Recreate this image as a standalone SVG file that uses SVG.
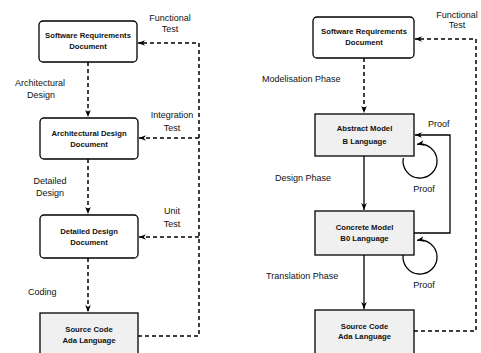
<svg xmlns="http://www.w3.org/2000/svg" width="481" height="353" viewBox="0 0 481 353">
<style>
.doc{fill:#ffffff;stroke:#000;stroke-width:1.3}
.mod{fill:#f0f0f0;stroke:#000;stroke-width:1.3}
.bt{font-family:"Liberation Sans",Arial,sans-serif;font-size:7.7px;font-weight:bold;text-anchor:middle;fill:#111}
.lb{font-family:"Liberation Sans",Arial,sans-serif;font-size:9px;fill:#111}
.c{text-anchor:middle}
.dash{fill:none;stroke:#000;stroke-width:1.5;stroke-dasharray:4,3}
.solid{fill:none;stroke:#000;stroke-width:1.3}
</style>
<defs>
<marker id="ah" viewBox="0 0 10 10" refX="10" refY="5" markerWidth="7" markerHeight="7" markerUnits="userSpaceOnUse" orient="auto">
<path d="M0,1 L10,5 L0,9 L3,5 z" fill="#000"/>
</marker>
</defs>
<rect width="481" height="353" fill="#ffffff"/>

<g id="connectors">
<!-- left panel -->
<path class="dash" d="M88,62 V117" marker-end="url(#ah)"/>
<path class="dash" d="M88,159 V214" marker-end="url(#ah)"/>
<path class="dash" d="M88,258 V312" marker-end="url(#ah)"/>
<path class="dash" d="M138,336 H199 V43 H138" marker-end="url(#ah)"/>
<path class="dash" d="M199,138 H139" marker-end="url(#ah)"/>
<path class="dash" d="M199,237 H139" marker-end="url(#ah)"/>
<!-- right panel -->
<path class="dash" d="M364,58 V113" marker-end="url(#ah)"/>
<path class="solid" d="M364,156 V210" marker-end="url(#ah)"/>
<path class="solid" d="M364,255 V309" marker-end="url(#ah)"/>
<path class="dash" d="M414,331 H476 V39 H415" marker-end="url(#ah)"/>
<path class="solid" d="M414,233 H450 V135 H415" marker-end="url(#ah)"/>
<path class="solid" d="M403.3,158 A17,17 0 1 0 417,144.3" marker-end="url(#ah)"/>
<path class="solid" d="M403.3,254 A17,17 0 1 0 417,240.3" marker-end="url(#ah)"/>
</g>

<g id="l-srd">
<rect class="doc" x="39" y="21" width="98" height="41" rx="4"/>
<text class="bt" x="88" y="38">Software Requirements</text>
<text class="bt" x="88" y="49">Document</text>
</g>
<g id="l-add">
<rect class="doc" x="40" y="118" width="98" height="41" rx="4"/>
<text class="bt" x="89" y="136">Architectural Design</text>
<text class="bt" x="89" y="147">Document</text>
</g>
<g id="l-ddd">
<rect class="doc" x="40" y="215" width="98" height="43" rx="4"/>
<text class="bt" x="89" y="234">Detailed Design</text>
<text class="bt" x="89" y="245">Document</text>
</g>
<g id="l-src">
<rect class="mod" x="40" y="313" width="98" height="50"/>
<text class="bt" x="89" y="332">Source Code</text>
<text class="bt" x="89" y="343">Ada Language</text>
</g>

<g id="r-srd">
<rect class="doc" x="313" y="17" width="101" height="41" rx="4"/>
<text class="bt" x="364" y="34">Software Requirements</text>
<text class="bt" x="364" y="45">Document</text>
</g>
<g id="r-abs">
<rect class="mod" x="315" y="114" width="99" height="42"/>
<text class="bt" x="364.5" y="131">Abstract Model</text>
<text class="bt" x="364.5" y="144">B Language</text>
</g>
<g id="r-con">
<rect class="mod" x="315" y="211" width="99" height="44"/>
<text class="bt" x="364.5" y="230">Concrete Model</text>
<text class="bt" x="364.5" y="241">B0 Language</text>
</g>
<g id="r-src">
<rect class="mod" x="315" y="310" width="99" height="50"/>
<text class="bt" x="364.5" y="329">Source Code</text>
<text class="bt" x="364.5" y="339">Ada Language</text>
</g>

<g id="labels">
<text class="lb c" x="170" y="21">Functional</text>
<text class="lb c" x="170" y="32">Test</text>
<text class="lb c" x="40" y="86">Architectural</text>
<text class="lb c" x="41" y="98">Design</text>
<text class="lb c" x="172" y="118">Integration</text>
<text class="lb c" x="172" y="131">Test</text>
<text class="lb c" x="50" y="184">Detailed</text>
<text class="lb c" x="50" y="196">Design</text>
<text class="lb c" x="172" y="214">Unit</text>
<text class="lb c" x="172" y="227">Test</text>
<text class="lb" x="28" y="295">Coding</text>

<text class="lb c" x="457" y="18">Functional</text>
<text class="lb c" x="457" y="28">Test</text>
<text class="lb" x="262" y="82">Modelisation Phase</text>
<text class="lb" x="428" y="127">Proof</text>
<text class="lb" x="275" y="181">Design Phase</text>
<text class="lb c" x="424" y="192">Proof</text>
<text class="lb" x="266" y="279">Translation Phase</text>
<text class="lb c" x="424" y="288">Proof</text>
</g>
</svg>
